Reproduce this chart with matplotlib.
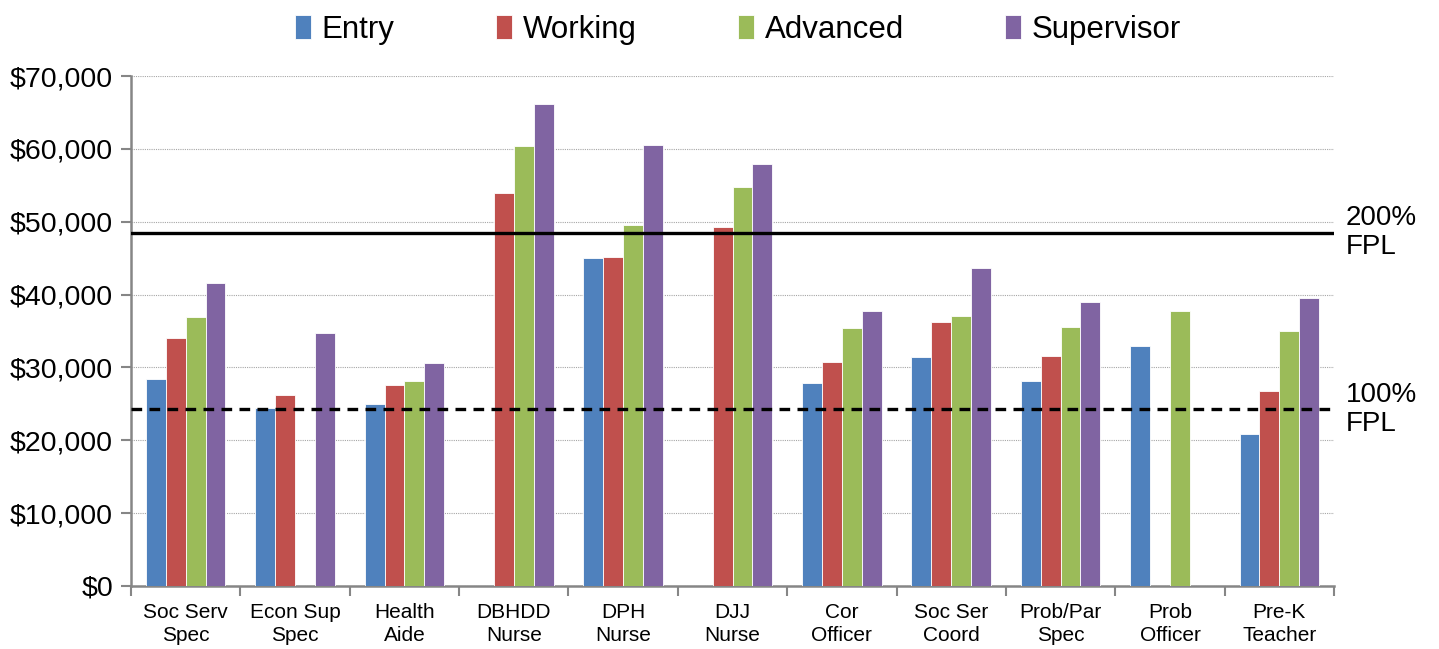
import numpy as np
import matplotlib
matplotlib.use("Agg")
import matplotlib.pyplot as plt
from matplotlib.ticker import FuncFormatter, FixedLocator
import matplotlib.transforms as mtransforms

plt.rcParams['font.family'] = ['Liberation Sans', 'DejaVu Sans']

categories = ["Soc Serv\nSpec", "Econ Sup\nSpec", "Health\nAide", "DBHDD\nNurse",
              "DPH\nNurse", "DJJ\nNurse", "Cor\nOfficer", "Soc Ser\nCoord",
              "Prob/Par\nSpec", "Prob\nOfficer", "Pre-K\nTeacher"]
nan = np.nan
entry      = [28400, 24400, 25000, nan,   45000, nan,   27800, 31500, 28200, 33000, 20900]
working    = [34000, 26200, 27600, 54000, 45100, 49300, 30800, 36200, 31600, nan,   26700]
advanced   = [36900, nan,   28200, 60400, 49600, 54700, 35400, 37000, 35500, 37700, 35000]
supervisor = [41600, 34700, 30600, 66100, 60500, 57900, 37800, 43700, 39000, nan,   39500]
series_names = ["Entry", "Working", "Advanced", "Supervisor"]
colors = ["#4F81BD", "#C0504D", "#9BBB59", "#8064A2"]
fpl_200 = 48500
fpl_100 = 24250

fig = plt.figure(figsize=(14.39, 6.49), dpi=100)
ax = fig.add_axes([131/1439, 1 - 586/649, (1334 - 131)/1439, (586 - 76)/649])

x = np.arange(len(categories))
bw = 0.182
data = [entry, working, advanced, supervisor]
handles = []
for i, (vals, c, name) in enumerate(zip(data, colors, series_names)):
    b = ax.bar(x + (i - 1.5) * bw, vals, width=bw, color=c, edgecolor="#FFFFFF",
               linewidth=0.6, label=name, zorder=3)
    handles.append(b)

ax.axhline(fpl_200, color="black", lw=2.4, zorder=4)
ax.axhline(fpl_100, color="black", lw=2.4, ls=(0, (3.2, 2.2)), zorder=4)

trans = mtransforms.blended_transform_factory(ax.transAxes, ax.transData)
ax.text(1.010, fpl_200, "200%\nFPL", transform=trans, ha="left", va="center",
        fontsize=20, linespacing=1.15)
ax.text(1.010, fpl_100, "100%\nFPL", transform=trans, ha="left", va="center",
        fontsize=20, linespacing=1.15)

ax.set_xlim(-0.5, len(categories) - 0.5)
ax.set_ylim(0, 70000)
ax.set_yticks(np.arange(0, 70001, 10000))
ax.yaxis.set_major_formatter(FuncFormatter(lambda v, p: "${:,.0f}".format(v)))
ax.grid(axis="y", color="#A6A6A6", lw=0.8, ls=(0, (1, 1)), zorder=0)

ax.xaxis.set_major_locator(FixedLocator(np.arange(-0.5, len(categories), 1.0)))
ax.xaxis.set_minor_locator(FixedLocator(x))
ax.set_xticklabels([], minor=False)
ax.set_xticklabels(categories, minor=True, fontsize=15, linespacing=1.3)
ax.tick_params(axis="x", which="minor", length=0, pad=12)
ax.tick_params(axis="x", which="major", length=7, width=1.5, color="#868686")
ax.tick_params(axis="y", length=7, width=1.5, color="#868686", labelsize=20.5, pad=6)

for s in ["top", "right"]:
    ax.spines[s].set_visible(False)
for s in ["left", "bottom"]:
    ax.spines[s].set_color("#868686")
    ax.spines[s].set_linewidth(1.8)

fig.legend(handles=handles, labels=series_names, loc="upper center",
           bbox_to_anchor=(0.513, 1.02), ncol=4, frameon=False, fontsize=22.5,
           handlelength=0.5, handleheight=0.8, handletextpad=0.35,
           columnspacing=3.25)

fig.savefig("out.png", dpi=100)
